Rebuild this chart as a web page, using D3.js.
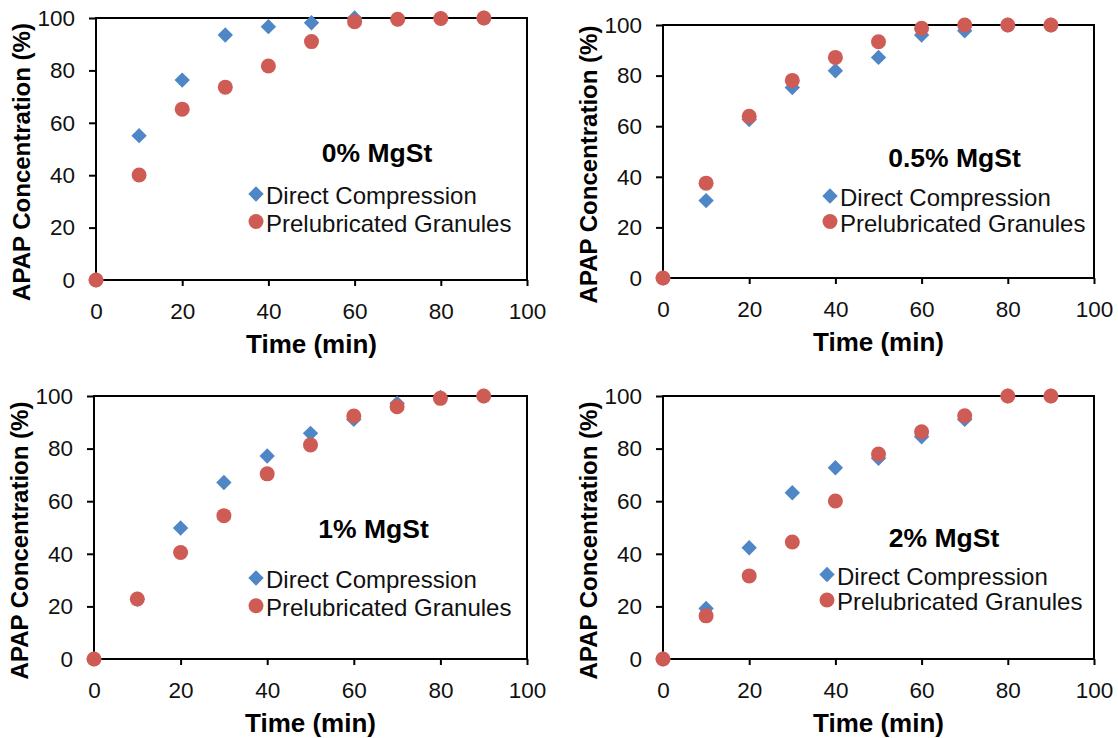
<!DOCTYPE html>
<html>
<head>
<meta charset="utf-8">
<script src="https://cdn.jsdelivr.net/npm/d3@7"></script>
<style>
  body { margin: 0; background: #fff; }
  svg { display: block; font-family: "Liberation Sans", Arial, sans-serif; }
</style>
</head>
<body>
<div id="chart"></div>
<script>
var times = [0, 10, 20, 30, 40, 50, 60, 70, 80, 90];
var xTicks = [0, 20, 40, 60, 80, 100];
var yTicks = [0, 20, 40, 60, 80, 100];
var seriesNames = ['Direct Compression', 'Prelubricated Granules'];
var panelTitles = ['0% MgSt', '0.5% MgSt', '1% MgSt', '2% MgSt'];
var xTitle = 'Time (min)';
var yTitle = 'APAP Concentration (%)';

// % dissolved, one value per time point
var direct0 = [0, 55.1, 76.3, 93.5, 96.7, 98.2, 100, 99.5, 99.8, 100];
var granules0 = [0, 40.1, 65.2, 73.6, 81.7, 91.0, 98.6, 99.5, 99.8, 100];
var direct05 = [0, 30.6, 62.6, 75.3, 81.9, 87.2, 96.0, 97.7, 100, 100];
var granules05 = [0, 37.5, 63.9, 78.1, 87.2, 93.4, 98.7, 100, 100, 100];
var direct1 = [0, 22.7, 49.8, 67.1, 77.2, 85.8, 91.1, 97.2, 99.5, 100];
var granules1 = [0, 22.8, 40.5, 54.5, 70.4, 81.4, 92.4, 95.9, 99.1, 100];
var direct2 = [0, 19.2, 42.3, 63.2, 72.7, 76.3, 84.5, 91.1, 100, 100];
var granules2 = [0, 16.4, 31.6, 44.5, 60.1, 77.9, 86.4, 92.5, 100, 100];

var blue = '#4f86c6';
var red = '#cf5b55';

var panels = [
  { title: panelTitles[0], direct: direct0, granules: granules0,
    box: [96, 18, 527, 280], titlePos: [281, 144], legend: [160, 176, 27.5] },
  { title: panelTitles[1], direct: direct05, granules: granules05,
    box: [663, 25, 1094, 278], titlePos: [291.5, 142], legend: [167, 171, 25.5] },
  { title: panelTitles[2], direct: direct1, granules: granules1,
    box: [94, 396, 527, 659], titlePos: [279.5, 142], legend: [162, 182, 27.7] },
  { title: panelTitles[3], direct: direct2, granules: granules2,
    box: [663, 396, 1094, 659], titlePos: [281, 151], legend: [164, 178.5, 25.5] },
];

var svg = d3.select('#chart').append('svg')
  .attr('width', 1118)
  .attr('height', 738);

var diamond = d3.symbol().type(d3.symbolSquare).size(118);

panels.forEach(drawPanel);

function drawPanel(p) {
  var left = p.box[0], top = p.box[1];
  var width = p.box[2] - left, height = p.box[3] - top;

  var x = d3.scaleLinear().domain([0, 100]).range([0, width]);
  var y = d3.scaleLinear().domain([0, 100]).range([height, 0]);

  var g = svg.append('g')
    .attr('transform', 'translate(' + left + ',' + top + ')');

  var xAxis = g.append('g')
    .attr('transform', 'translate(0,' + height + ')')
    .call(d3.axisBottom(x).tickValues(xTicks).tickSize(6).tickSizeOuter(0).tickPadding(17));
  var yAxis = g.append('g')
    .call(d3.axisLeft(y).tickValues(yTicks).tickSize(7).tickSizeOuter(0).tickPadding(14));

  [xAxis, yAxis].forEach(function (a) {
    a.select('.domain').remove();
    a.selectAll('line').attr('stroke', '#000').attr('stroke-width', 2);
    a.selectAll('text')
      .attr('fill', '#111')
      .style('font-size', '22.5px')
      .style('font-family', '"Liberation Sans", Arial, sans-serif');
  });

  g.append('rect')
    .attr('width', width)
    .attr('height', height)
    .attr('fill', 'none')
    .attr('stroke', '#000')
    .attr('stroke-width', 2);

  g.append('text')
    .attr('x', width / 2)
    .attr('y', height + 73)
    .attr('text-anchor', 'middle')
    .style('font-size', '26px')
    .style('font-weight', 'bold')
    .text(xTitle);

  g.append('text')
    .attr('transform', 'translate(-66,' + (height / 2 + 13) + ') rotate(-90)')
    .attr('text-anchor', 'middle')
    .style('font-size', '24px')
    .style('font-weight', 'bold')
    .text(yTitle);

  // markers: diamonds first, circles drawn over them
  g.selectAll('.dc')
    .data(p.direct)
  .enter()
    .append('path')
    .attr('class', 'dc')
    .attr('d', diamond)
    .attr('transform', function (d, i) {
      return 'translate(' + x(times[i]) + ',' + y(d) + ') rotate(45)';
    })
    .attr('fill', blue);

  g.selectAll('.pg')
    .data(p.granules)
  .enter()
    .append('circle')
    .attr('class', 'pg')
    .attr('cx', function (d, i) { return x(times[i]); })
    .attr('cy', function (d) { return y(d); })
    .attr('r', 7.5)
    .attr('fill', red);

  g.append('text')
    .attr('x', p.titlePos[0])
    .attr('y', p.titlePos[1])
    .attr('text-anchor', 'middle')
    .style('font-size', '26.5px')
    .style('font-weight', 'bold')
    .text(p.title);

  var lx = p.legend[0], ly = p.legend[1], step = p.legend[2];
  g.append('path')
    .attr('d', diamond)
    .attr('transform', 'translate(' + lx + ',' + ly + ') rotate(45)')
    .attr('fill', blue);
  g.append('circle')
    .attr('cx', lx)
    .attr('cy', ly + step)
    .attr('r', 7.5)
    .attr('fill', red);

  seriesNames.forEach(function (name, i) {
    g.append('text')
      .attr('x', lx + 10)
      .attr('y', ly + i * step + 10)
      .attr('fill', '#111')
      .style('font-size', '24px')
      .text(name);
  });
}
</script>
</body>
</html>
